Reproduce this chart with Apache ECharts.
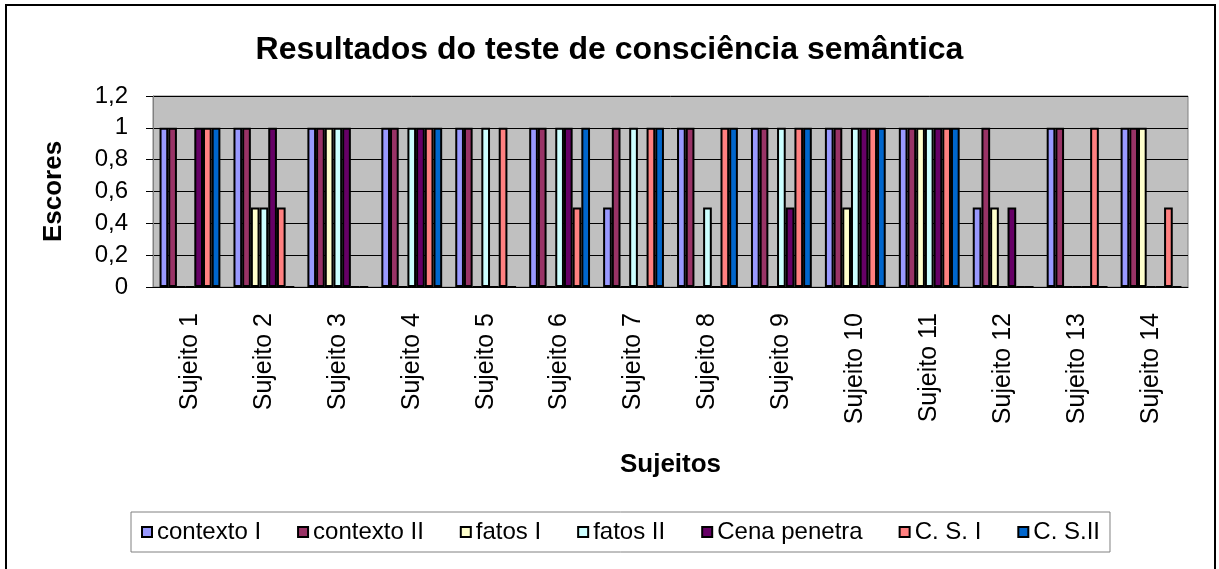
<!DOCTYPE html>
<html>
<head>
<meta charset="utf-8">
<title>Resultados do teste de consciência semântica</title>
<script src="https://cdn.jsdelivr.net/npm/echarts@6/dist/echarts.min.js"></script>
<style>
html, body { margin: 0; padding: 0; background: #fff; }
#chart_consciencia { width: 1219px; height: 569px; }
</style>
</head>
<body>
<div id="chart_consciencia"></div>
<script>
// dados
const sujeitos = ['Sujeito 1', 'Sujeito 2', 'Sujeito 3', 'Sujeito 4', 'Sujeito 5', 'Sujeito 6', 'Sujeito 7',
    'Sujeito 8', 'Sujeito 9', 'Sujeito 10', 'Sujeito 11', 'Sujeito 12', 'Sujeito 13', 'Sujeito 14'];
const contextoI   = [1, 1, 1, 1, 1, 1, 0.5, 1, 1, 1, 1, 0.5, 1, 1];
const contextoII  = [1, 1, 1, 1, 1, 1, 1, 1, 1, 1, 1, 1, 1, 1];
const fatosI      = [0, 0.5, 1, 0, 0, 0, 0, 0, 0, 0.5, 1, 0.5, 0, 1];
const fatosII     = [0, 0.5, 1, 1, 1, 1, 1, 0.5, 1, 1, 1, 0, 0, 0];
const cenaPenetra = [1, 1, 1, 1, 0, 1, 0, 0, 0.5, 1, 1, 0.5, 0, 0];
const csI         = [1, 0.5, 0, 1, 1, 0.5, 1, 1, 1, 1, 1, 0, 1, 0.5];
const csII        = [1, 0, 0, 1, 0, 1, 1, 1, 1, 1, 1, 0, 0, 0];
const yTickLabels = ['0', '0,2', '0,4', '0,6', '0,8', '1', '1,2'];

const fonte = '"Liberation Sans", Arial, sans-serif';

function serie(nome, dados, cor) {
    return {
        name: nome,
        type: 'bar',
        data: dados,
        barGap: '0%',
        barCategoryGap: '17.7%',
        itemStyle: {
            color: cor,
            borderColor: '#000',
            borderWidth: 2
        }
    };
}

let chart = echarts.init(document.getElementById('chart_consciencia'));
chart.setOption({
    animation: false,
    backgroundColor: '#fff',
    title: {
        text: 'Resultados do teste de consciência semântica',
        left: 'center',
        top: 29,
        textStyle: { fontFamily: fonte, fontSize: 32, fontWeight: 'bold', color: '#000' }
    },
    grid: {
        left: 153,
        right: 31,
        top: 96,
        bottom: 282,
        show: true,
        backgroundColor: '#C0C0C0',
        borderColor: '#808080',
        borderWidth: 1
    },
    legend: {
        left: 131,
        top: 512,
        padding: [8, 10],
        itemGap: 36,
        itemWidth: 10,
        itemHeight: 10,
        icon: 'rect',
        borderColor: '#808080',
        borderWidth: 1,
        backgroundColor: '#fff',
        itemStyle: { borderColor: '#000', borderWidth: 2 },
        textStyle: { fontFamily: fonte, fontSize: 24, color: '#000' }
    },
    xAxis: {
        type: 'category',
        data: sujeitos,
        name: 'Sujeitos',
        nameLocation: 'middle',
        nameGap: 165,
        nameTextStyle: { fontFamily: fonte, fontSize: 26, fontWeight: 'bold', color: '#000' },
        axisLine: { lineStyle: { color: '#000', width: 1 } },
        axisTick: { show: false },
        axisLabel: { rotate: 90, margin: 26, fontFamily: fonte, fontSize: 25, color: '#000' }
    },
    yAxis: {
        type: 'value',
        min: 0,
        max: 1.2,
        interval: 0.2,
        name: 'Escores',
        nameLocation: 'middle',
        nameGap: 86,
        nameTextStyle: { fontFamily: fonte, fontSize: 26, fontWeight: 'bold', color: '#000' },
        axisLine: { show: true, lineStyle: { color: '#808080' } },
        axisTick: { show: true, length: 7, lineStyle: { color: '#000' } },
        axisLabel: {
            margin: 25,
            fontFamily: fonte,
            fontSize: 24,
            color: '#000',
            formatter: function (v) { return yTickLabels[Math.round(v / 0.2)]; }
        },
        splitLine: { lineStyle: { color: '#000', width: 1 } }
    },
    series: [
        serie('contexto I', contextoI, '#9999FF'),
        serie('contexto II', contextoII, '#993366'),
        serie('fatos I', fatosI, '#FFFFCC'),
        serie('fatos II', fatosII, '#CCFFFF'),
        serie('Cena penetra', cenaPenetra, '#660066'),
        serie('C. S. I', csI, '#FF8080'),
        serie('C. S.II', csII, '#0066CC')
    ],
    graphic: [{
        type: 'rect',
        z: -1,
        shape: { x: 6, y: 5, width: 1209, height: 620 },
        style: { fill: 'none', stroke: '#000', lineWidth: 2 }
    }]
});
</script>
</body>
</html>
